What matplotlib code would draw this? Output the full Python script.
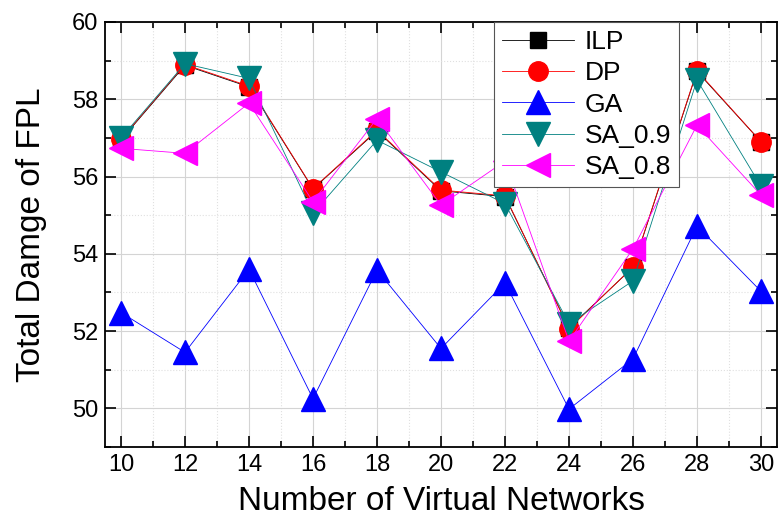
import matplotlib
matplotlib.use('Agg')
import matplotlib.pyplot as plt
from matplotlib.ticker import MultipleLocator

plt.rcParams['font.family'] = ['Liberation Sans', 'DejaVu Sans']

vn = [10, 12, 14, 16, 18, 20, 22, 24, 26, 28, 30]
ilp = [56.95, 58.88, 58.32, 55.68, 57.18, 55.63, 55.48, 52.08, 53.65, 58.72, 56.9]
dp = [56.97, 58.9, 58.34, 55.69, 57.2, 55.65, 55.5, 52.06, 53.66, 58.74, 56.9]
ga = [52.48, 51.45, 53.6, 50.25, 53.58, 51.55, 53.25, 49.98, 51.28, 54.72, 53.03]
sa09 = [57.0, 58.92, 58.54, 55.05, 56.94, 56.12, 55.3, 52.19, 53.3, 58.5, 55.75]
sa08 = [56.73, 56.6, 57.9, 55.35, 57.5, 55.26, 56.4, 51.74, 54.13, 57.33, 55.52]

fig = plt.figure(figsize=(7.83, 5.19), dpi=100)
ax = fig.add_axes([105/783, 1-447/519, (777-105)/783, (447-22)/519])

ax.plot(vn, ilp, '-s', color='black', mfc='black', mec='black', lw=0.6, ms=12, label='ILP')
ax.plot(vn, dp, '-o', color='red', mfc='red', mec='red', lw=0.6, ms=14, label='DP')
ax.plot(vn, ga, '-^', color='#0000ff', mfc='#0000ff', mec='#0000ff', lw=0.6, ms=17, label='GA')
ax.plot(vn, sa09, '-v', color='#008080', mfc='#008080', mec='#008080', lw=0.6, ms=17, label='SA_0.9')
ax.plot(vn, sa08, '-<', color='#ff00ff', mfc='#ff00ff', mec='#ff00ff', lw=0.6, ms=17, label='SA_0.8')

ax.set_xlim(9.5, 30.5)
ax.set_ylim(49, 60)
ax.xaxis.set_major_locator(MultipleLocator(2))
ax.xaxis.set_minor_locator(MultipleLocator(1))
ax.yaxis.set_major_locator(MultipleLocator(2))
ax.yaxis.set_minor_locator(MultipleLocator(1))
ax.tick_params(which='both', direction='in', top=True, right=True, labelsize=17, width=1.2)
ax.tick_params(which='major', length=8, pad=5)
ax.tick_params(which='minor', length=4)
ax.grid(which='major', color='#d4d4d4', lw=0.8, ls='-')
ax.grid(which='minor', color='#e0e0e0', lw=0.8, ls=':')
ax.set_axisbelow(True)
for s in ax.spines.values():
    s.set_linewidth(1.3)

ax.set_xlabel('Number of Virtual Networks', fontsize=24, labelpad=7)
ax.set_ylabel('Total Damge of FPL', fontsize=24, labelpad=18)

leg = ax.legend(loc='upper left', bbox_to_anchor=((494-105)/672, 1.0), borderaxespad=0,
                fontsize=19, frameon=True, fancybox=False, edgecolor='#555555', framealpha=1,
                handlelength=2.75, labelspacing=0.28, handletextpad=0.4, borderpad=0.3)
leg.get_frame().set_linewidth(0.8)

fig.savefig('out.png', dpi=100)
